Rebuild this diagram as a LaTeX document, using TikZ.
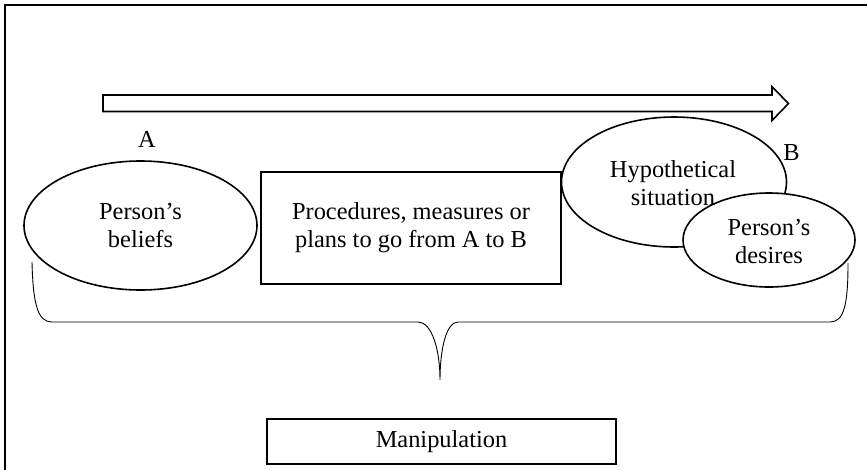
\documentclass[tikz,border=0pt]{standalone}
\usepackage{fontspec}
\setmainfont{Liberation Serif}
\usetikzlibrary{shapes.geometric}
\tikzset{
  lbl/.style={font=\fontsize{24.4}{28}\selectfont, align=center, inner sep=0pt},
  oval/.style={ellipse, draw, line width=1.6pt, inner sep=0pt},
  panel/.style={rectangle, draw, line width=1.6pt, inner sep=0pt},
  bracepath/.style={line width=0.9pt},
}
\begin{document}
\begin{tikzpicture}[x=1pt, y=-1pt]
  \useasboundingbox (0,0) rectangle (867,469);
  % outer frame
  \draw[line width=1.3pt] (5,480) -- (5,5) -- (880,5);
  % time arrow
  \draw[line width=1.6pt, line join=miter]
    (103,95) -- (772,95) -- (772,86.7) -- (788.5,103.5) -- (772,120.5)
    -- (772,111.5) -- (103,111.5) -- cycle;
  % end-point labels
  \node[lbl] (a) at (147,139) {A};
  \node[lbl] (b) at (791.5,153) {B};
  % beliefs
  \node[oval, minimum width=233pt, minimum height=129pt] (beliefs) at (140.5,225.5) {};
  \node[lbl] (beliefstext) at (beliefs.center) {Person’s\\beliefs};
  % procedures box
  \node[panel, minimum width=300pt, minimum height=112pt] (proc) at (411,228) {};
  \node[lbl] (proctext) at (proc.center) {Procedures, measures or\\plans to go from A to B};
  % hypothetical situation and desires
  \node[oval, minimum width=225pt, minimum height=130pt] (hypo) at (674,182) {};
  \node[oval, fill=white, minimum width=172pt, minimum height=94pt] (desires) at (769,240) {};
  \node[lbl] (hypotext) at (673,183) {Hypothetical\\situation};
  \node[lbl] (desirestext) at (769,241.5) {Person’s\\desires};
  % brace collecting the three parts
  \coordinate (bl) at (32,262);
  \coordinate (br) at (848,263);
  \coordinate (tip) at (440,380);
  \draw[bracepath] (bl) .. controls (33,305) and (38,322) .. (52,322)
    -- (418,322) .. controls (432,322) and (440,350) .. (tip)
    .. controls (440,350) and (446,322) .. (458,322)
    -- (830,322) .. controls (844,322) and (848,305) .. (br);
  % result box
  \node[panel, line width=1.4pt, minimum width=349pt, minimum height=45pt] (manip) at (441.5,441.5) {};
  \node[lbl] (maniptext) at (manip.center) {Manipulation};
\end{tikzpicture}
\end{document}
